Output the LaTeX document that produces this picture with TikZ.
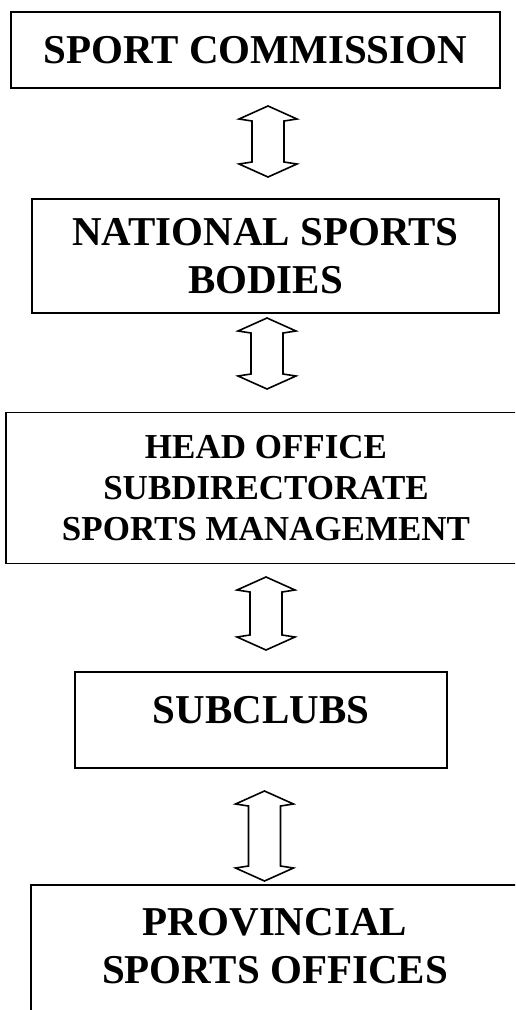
\documentclass[tikz,border=0pt]{standalone}
\usepackage{fontspec}
\setmainfont{Liberation Serif}
\usetikzlibrary{positioning}
\tikzset{
  caja/.style={draw=black,line width=1.4pt,align=center,inner sep=0pt,font=\bfseries\fontsize{41}{48}\selectfont},
  cajachica/.style={caja,font=\bfseries\fontsize{35}{41}\selectfont},
  pics/flecha/.style={code={
    \draw[line width=1.6pt,line join=miter] (0,-#1) -- (29,-#1+13) -- (16,-#1+15) -- (16,#1-15) -- (29,#1-13)
      -- (0,#1) -- (-29,#1-13) -- (-16,#1-15) -- (-16,-#1+15) -- (-29,-#1+13) -- cycle;}}
}
\begin{document}
\begin{tikzpicture}[x=1pt,y=-1pt]
\useasboundingbox (0,0) rectangle (515,1010); \clip (0,0) rectangle (515,1010);
\node[caja,minimum width=489,minimum height=76] (com) at (255.5,50) {SPORT COMMISSION};
\node[caja,minimum width=467,minimum height=114] (nac) at (265.5,256) {NATIONAL SPORTS\\BODIES};
\node[cajachica,minimum width=520,minimum height=151] (ofi) at (266,488) {HEAD OFFICE\\SUBDIRECTORATE\\SPORTS MANAGEMENT};
\node[caja,minimum width=372,minimum height=96,text depth=20pt] (sub) at (261,720) {SUBCLUBS};
\node[caja,minimum width=488,minimum height=140,text depth=19pt] (prov) at (275,955) {PROVINCIAL\\SPORTS OFFICES};
\pic at (268,141.5) {flecha=35.5}; \pic at (267,353.5) {flecha=35.5};
\pic at (266,613.5) {flecha=36.5}; \pic at (264.5,836) {flecha=45};
\end{tikzpicture}
\end{document}
